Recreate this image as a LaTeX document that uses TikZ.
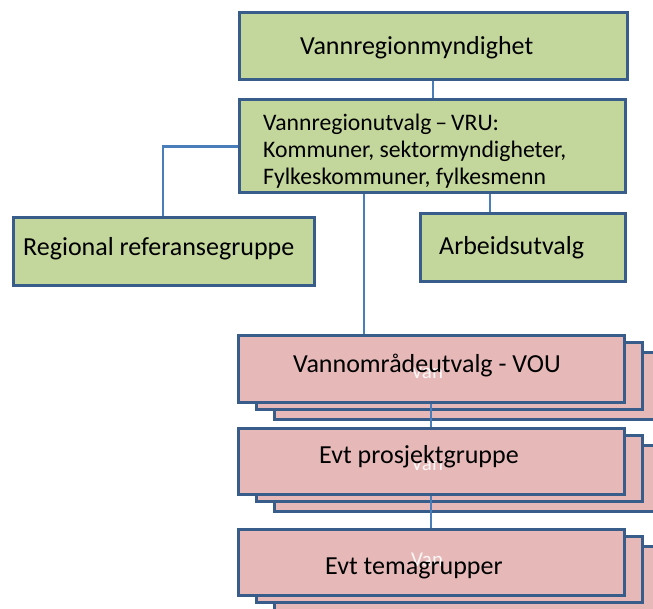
\documentclass[tikz,border=0pt]{standalone}
\usepackage{fontspec}
\setmainfont{Carlito}
\definecolor{greenfill}{HTML}{C3D69B}
\definecolor{pinkfill}{HTML}{E6B9B8}
\definecolor{boxline}{HTML}{385D8A}
\definecolor{connline}{HTML}{4A7EBB}
\begin{document}
\begin{tikzpicture}[x=1pt,y=-1pt,
  gbox/.style={draw=boxline,line width=3pt,fill=greenfill,rectangle,inner sep=0pt},
  pbox/.style={draw=boxline,line width=3pt,fill=pinkfill,rectangle,inner sep=0pt,minimum width=386pt,minimum height=66pt},
  conn/.style={draw=connline,line width=2.4pt},
  bigtxt/.style={font=\fontsize{26}{31}\selectfont,anchor=base west,inner sep=0pt,text=black},
  vrutxt/.style={font=\fontsize{23.7}{27}\selectfont,anchor=base west,inner sep=0pt,text=black},
  ghost/.style={font=\fontsize{21}{25}\selectfont,anchor=base west,inner sep=0pt,text=white!88!pinkfill}]
\useasboundingbox (0,0) rectangle (653,609);
\clip (0,0) rectangle (653,609);
% green boxes
\node[gbox,minimum width=388pt,minimum height=67pt] (b1) at (433,46.5) {};
\node[gbox,minimum width=386pt,minimum height=93pt] (b2) at (432,146.5) {};
\node[gbox,minimum width=301pt,minimum height=68pt] (reg) at (163.5,252) {};
\node[gbox,minimum width=205pt,minimum height=68pt] (arb) at (522.5,248) {};
\coordinate (arbx) at (490,0);
\coordinate (vrux) at (364,0);
% pink stacks (back layers)
\node[pbox] (vou3) at (467,386) {};
\node[pbox] (vou2) at (449,376) {};
\node[pbox] (pro3) at (467,478.5) {};
\node[pbox] (pro2) at (449,468.5) {};
\node[pbox] (tem3) at (467,579) {};
\node[pbox] (tem2) at (449,569) {};
% connectors
\draw[conn] (b1.south) -- (b1.south |- b2.north);
\draw[conn] (b2.west) -| (reg.north -| 163,0);
\draw[conn] (b2.south -| arbx) -- (arb.north -| arbx);
% front pink boxes
\node[pbox] (vou) at (431,369) {};
\node[pbox] (pro) at (431,461.5) {};
\node[pbox] (tem) at (431,562) {};
\draw[conn] (b2.south -| vrux) -- (vou.north -| vrux);
\draw[conn] (vou.south) -- (vou.south |- pro.north);
\draw[conn] (pro.south) -- (pro.south |- tem.north);
% redraw borders over connector ends
\node[pbox,fill=none] at (vou) {};
\node[pbox,fill=none] at (pro) {};
\node[pbox,fill=none] at (tem) {};
\node[gbox,fill=none,minimum width=386pt,minimum height=93pt] at (b2) {};
% ghost texts
\begin{scope}
\clip (380,368) rectangle (480,390);
\node[ghost] (g1) at (411,378) {Van};
\end{scope}
\begin{scope}
\clip (380,461) rectangle (480,480);
\node[ghost] (g2) at (411,470) {Van};
\end{scope}
\node[ghost] (g3) at (411,566) {Van};
% texts
\node[bigtxt] (t1) at (300,55) {Vannregionmyndighet};
\node[vrutxt] (t2a) at (263,131) {Vannregionutvalg\,–\,VRU:};
\node[vrutxt] (t2b) at (263,158) {Kommuner, sektormyndigheter,};
\node[vrutxt] (t2c) at (263,185) {Fylkeskommuner, fylkesmenn};
\node[bigtxt] (t3) at (23,256) {Regional referansegruppe};
\node[bigtxt] (t4) at (439,255) {Arbeidsutvalg};
\node[bigtxt] (t5) at (293,373) {Vannområdeutvalg - VOU};
\node[bigtxt] (t6) at (319,463) {Evt prosjektgruppe};
\node[bigtxt] (t7) at (325,574) {Evt temagrupper};
\end{tikzpicture}
\end{document}
